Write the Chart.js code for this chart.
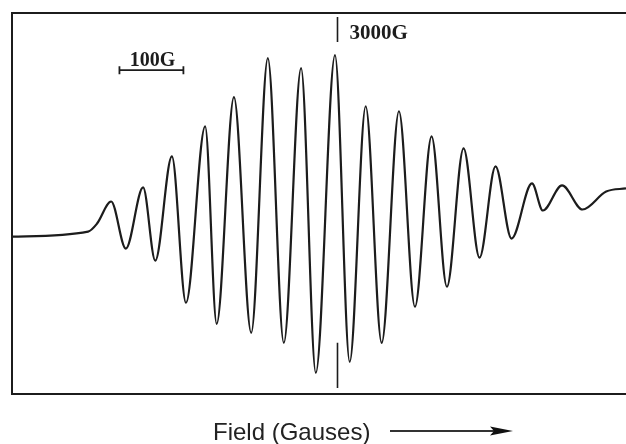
<!DOCTYPE html>
<html lang="en">
<head>
  <meta charset="UTF-8" />
  <title>EPR spectrum</title>
  <script src="https://cdn.jsdelivr.net/npm/chart.js"></script>
  <style>
    html, body { margin: 0; padding: 0; background: #fff; }
    #wrap { width: 626px; height: 444px; }
  </style>
</head>
<body>
<div id="wrap"><canvas id="spectrum" width="626" height="444"></canvas></div>

<script>
  // field (G) and derivative signal (arb. units)
  const fieldG = [2492, 2611, 2625, 2647, 2670, 2697, 2716, 2742, 2764, 2794, 2812,
    2839, 2866, 2892, 2917, 2944, 2967, 2997, 3020, 3045, 3070, 3097, 3122,
    3148, 3172, 3198, 3223, 3248, 3273, 3305, 3322, 3352, 3384, 3421, 3452];
  const signal = [-1, 4, 12, 34, -13, 48, -25, 79, -67, 109, -88,
    138, -97, 177, -107, 167, -137, 180, -126, 129, -107, 124, -71,
    99, -51, 87, -22, 69, -3, 52, 25, 50, 26, 44, 47];

  const centerField = 3000;       // "3000G" marker
  const scaleBar = [2660, 2760];  // 100 G scale bar
  const xRange = [2492, 3452];
  const yRange = [-158, 222];

  const ink = '#1c1c1c';

  const points = fieldG.map((f, i) => ({ x: f, y: signal[i] }));

  const decor = {
    id: 'decor',
    afterDraw(chart) {
      const { ctx, chartArea: a, scales: { x, y } } = chart;
      ctx.save();
      ctx.strokeStyle = ink;
      ctx.fillStyle = ink;

      // frame (top, left, bottom; right side open)
      ctx.lineWidth = 2;
      ctx.beginPath();
      ctx.moveTo(a.right, a.top);
      ctx.lineTo(a.left, a.top);
      ctx.lineTo(a.left, a.bottom);
      ctx.lineTo(a.right, a.bottom);
      ctx.stroke();

      // 3000G markers
      const cx = Math.round(x.getPixelForValue(centerField)) + 0.5;
      ctx.lineWidth = 1.6;
      ctx.beginPath();
      ctx.moveTo(cx, y.getPixelForValue(218));
      ctx.lineTo(cx, y.getPixelForValue(193));
      ctx.moveTo(cx, y.getPixelForValue(-107));
      ctx.lineTo(cx, y.getPixelForValue(-152));
      ctx.stroke();
      ctx.font = 'bold 21px "Liberation Serif", serif';
      ctx.textBaseline = 'alphabetic';
      ctx.textAlign = 'left';
      ctx.fillText('3000G', cx + 12, 39);

      // 100 G scale bar
      const x0 = x.getPixelForValue(scaleBar[0]);
      const x1 = x.getPixelForValue(scaleBar[1]);
      const by = y.getPixelForValue(165);
      ctx.lineWidth = 1.8;
      ctx.beginPath();
      ctx.moveTo(x0, by); ctx.lineTo(x1, by);
      ctx.moveTo(x0, by - 4); ctx.lineTo(x0, by + 4);
      ctx.moveTo(x1, by - 4); ctx.lineTo(x1, by + 4);
      ctx.stroke();
      ctx.font = 'bold 20px "Liberation Serif", serif';
      ctx.textAlign = 'center';
      ctx.fillText('100G', (x0 + x1) / 2 + 1, by - 4);

      // axis caption and arrow
      ctx.font = '24px "Liberation Sans", Arial, sans-serif';
      ctx.textAlign = 'left';
      ctx.fillStyle = '#222';
      ctx.fillText('Field (Gauses)', 213, 440);
      ctx.strokeStyle = '#333';
      ctx.lineWidth = 2;
      ctx.beginPath();
      ctx.moveTo(390, 431); ctx.lineTo(500, 431);
      ctx.stroke();
      ctx.fillStyle = '#111';
      ctx.beginPath();
      ctx.moveTo(513, 431);
      ctx.lineTo(490, 426.5);
      ctx.lineTo(494, 431);
      ctx.lineTo(490, 435.5);
      ctx.closePath();
      ctx.fill();
      ctx.restore();
    }
  };

  new Chart(document.getElementById('spectrum'), {
    type: 'line',
    data: {
      datasets: [{
        data: points,
        borderColor: ink,
        borderWidth: 2.2,
        pointRadius: 0,
        fill: false,
        cubicInterpolationMode: 'monotone'
      }]
    },
    options: {
      responsive: false,
      animation: false,
      layout: { padding: { left: 12, top: 13, right: 0, bottom: 50 } },
      plugins: { legend: { display: false }, tooltip: { enabled: false } },
      scales: {
        x: { type: 'linear', display: false, min: xRange[0], max: xRange[1] },
        y: { display: false, min: yRange[0], max: yRange[1] }
      }
    },
    plugins: [decor]
  });
</script>
</body>
</html>
